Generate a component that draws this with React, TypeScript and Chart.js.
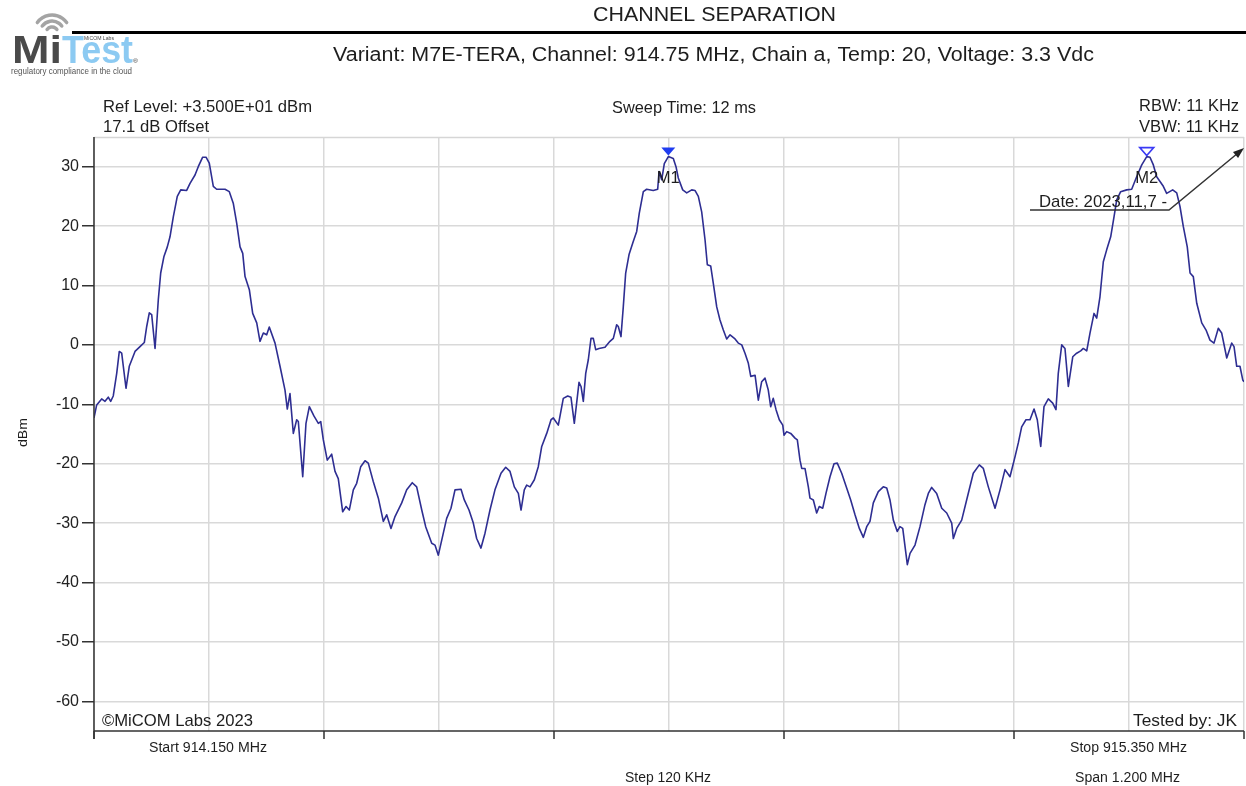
import React, { useEffect, useRef } from "react";
import { Chart, registerables } from "chart.js";
Chart.register(...registerables);

// ---------- data ----------
const freqMHz = [
  914.1500,914.1528,914.1580,914.1615,914.1649,914.1674,914.1701,914.1737,914.1764,914.1789,
  914.1834,914.1868,914.1928,914.1980,914.2025,914.2050,914.2077,914.2102,914.2137,914.2171,
  914.2196,914.2230,914.2265,914.2293,914.2328,914.2369,914.2405,914.2467,914.2502,914.2554,
  914.2588,914.2634,914.2669,914.2703,914.2745,914.2780,914.2867,914.2912,914.2954,914.2989,
  914.3024,914.3052,914.3076,914.3121,914.3156,914.3198,914.3232,914.3267,914.3302,914.3329,
  914.3389,914.3441,914.3493,914.3517,914.3545,914.3580,914.3615,914.3632,914.3678,914.3712,
  914.3747,914.3796,914.3841,914.3866,914.3893,914.3934,914.3980,914.4015,914.4049,914.4095,
  914.4130,914.4164,914.4206,914.4241,914.4283,914.4328,914.4362,914.4414,914.4467,914.4519,
  914.4554,914.4599,914.4641,914.4711,914.4763,914.4821,914.4867,914.4920,914.4961,914.5024,
  914.5058,914.5093,914.5145,914.5180,914.5225,914.5267,914.5330,914.5364,914.5413,914.5458,
  914.5493,914.5538,914.5580,914.5632,914.5684,914.5747,914.5796,914.5841,914.5886,914.5928,
  914.5956,914.5990,914.6015,914.6050,914.6095,914.6136,914.6172,914.6224,914.6269,914.6293,
  914.6345,914.6397,914.6443,914.6477,914.6512,914.6561,914.6582,914.6606,914.6631,914.6658,
  914.6686,914.6710,914.6735,914.6770,914.6832,914.6884,914.6919,914.6954,914.6971,914.6999,
  914.7023,914.7048,914.7083,914.7127,914.7163,914.7190,914.7232,914.7267,914.7336,914.7382,
  914.7396,914.7424,914.7451,914.7493,914.7545,914.7573,914.7597,914.7643,914.7685,914.7737,
  914.7771,914.7806,914.7841,914.7876,914.7900,914.7935,914.7962,914.7998,914.8032,914.8067,
  914.8102,914.8137,914.8189,914.8223,914.8259,914.8293,914.8328,914.8353,914.8398,914.8432,
  914.8467,914.8502,914.8536,914.8561,914.8588,914.8617,914.8651,914.8687,914.8700,914.8728,
  914.8770,914.8815,914.8839,914.8867,914.8885,914.8919,914.8954,914.8971,914.9006,914.9041,
  914.9068,914.9104,914.9138,914.9180,914.9222,914.9256,914.9302,914.9354,914.9396,914.9441,
  914.9486,914.9528,914.9563,914.9597,914.9632,914.9684,914.9736,914.9772,914.9806,914.9841,
  914.9882,914.9910,914.9939,914.9987,915.0015,915.0067,915.0119,915.0171,915.0206,915.0241,
  915.0293,915.0346,915.0398,915.0450,915.0467,915.0502,915.0554,915.0606,915.0675,915.0738,
  915.0780,915.0832,915.0902,915.0954,915.1006,915.1058,915.1111,915.1145,915.1180,915.1225,
  915.1267,915.1309,915.1343,915.1379,915.1413,915.1458,915.1504,915.1538,915.1562,915.1598,
  915.1632,915.1667,915.1713,915.1754,915.1796,915.1823,915.1859,915.1893,915.1935,915.1963,
  915.1997,915.2032,915.2067,915.2109,915.2144,915.2172,915.2213,915.2276,915.2328,915.2380,
  915.2433,915.2485,915.2519,915.2554,915.2589,915.2658,915.2693,915.2756,915.2798,915.2832,
  915.2867,915.2908,915.2937,915.2971,915.3007,915.3059,915.3104,915.3145,915.3187,915.3232,
  915.3267,915.3320,915.3372,915.3396,915.3424,915.3458,915.3487,915.3500,
];

const levelDbm = [
  -12.3,-10.1,-9.1,-9.5,-8.8,-9.5,-8.6,-4.8,-1.1,-1.4,
  -7.3,-3.6,-1.1,-0.3,0.4,3.1,5.4,5.1,-0.6,7.6,
  12.1,14.9,16.5,18.2,21.6,25.0,26.1,26.0,27.2,28.6,
  30.0,31.6,31.6,30.6,26.7,26.2,26.2,25.8,23.8,20.5,
  16.5,15.4,11.5,9.3,5.3,3.7,0.6,2.0,1.7,3.0,
  0.3,-3.6,-7.6,-10.8,-8.2,-14.9,-12.6,-12.9,-22.2,-13.2,
  -10.4,-12.0,-13.2,-12.9,-16.0,-19.4,-18.4,-21.3,-22.5,-28.1,
  -27.2,-27.8,-24.4,-23.3,-20.5,-19.5,-19.9,-23.0,-25.8,-29.7,
  -28.6,-30.9,-28.9,-26.6,-24.4,-23.2,-23.9,-27.8,-30.6,-33.4,
  -33.7,-35.4,-31.7,-29.2,-27.5,-24.4,-24.3,-26.1,-27.8,-30.0,
  -32.6,-34.2,-31.7,-27.8,-24.4,-21.6,-20.6,-21.3,-23.9,-25.0,
  -27.8,-24.4,-23.6,-23.9,-22.7,-20.5,-17.1,-14.9,-12.6,-12.3,
  -13.5,-9.0,-8.6,-8.8,-13.2,-6.3,-7.0,-9.5,-4.8,-2.5,
  1.1,1.1,-0.8,-0.6,-0.4,0.6,1.1,3.4,3.1,1.4,
  6.4,12.1,15.2,17.4,19.1,22.2,25.8,26.2,26.0,26.2,
  29.2,27.8,30.5,31.7,31.4,30.0,28.1,26.1,25.6,26.1,
  26.0,25.0,22.4,17.7,13.5,13.3,10.4,6.4,4.2,2.5,
  1.0,1.7,1.0,0.3,0.0,-1.4,-3.1,-5.3,-5.1,-9.3,
  -6.2,-5.6,-7.6,-10.4,-9.0,-10.9,-12.6,-13.5,-15.2,-14.6,
  -14.9,-15.7,-16.0,-19.4,-20.8,-20.8,-23.9,-25.8,-26.1,-28.3,
  -27.2,-27.5,-25.0,-22.2,-20.0,-19.9,-21.6,-24.1,-26.1,-28.6,
  -30.9,-32.4,-30.6,-29.7,-26.6,-24.7,-23.9,-24.1,-26.1,-29.5,
  -31.4,-30.6,-30.9,-37.0,-35.1,-33.7,-30.6,-26.9,-25.0,-24.0,
  -25.0,-27.5,-28.3,-30.0,-32.6,-30.9,-29.5,-26.1,-21.6,-20.2,
  -20.8,-23.9,-27.5,-24.4,-21.0,-22.2,-18.8,-16.5,-13.8,-12.6,
  -12.6,-10.8,-12.6,-17.1,-10.4,-9.1,-9.8,-10.9,-4.8,0.0,
  -0.6,-7.0,-2.0,-1.4,-1.0,-0.6,-1.0,2.0,5.3,4.5,
  8.1,14.0,16.0,18.2,21.6,24.4,25.8,26.1,26.2,28.3,
  30.3,31.7,31.6,30.3,28.3,26.7,25.5,26.1,25.6,23.3,
  19.9,16.5,12.1,11.5,7.0,3.7,2.5,0.8,0.3,2.8,
  2.0,-2.2,0.3,-0.3,-3.6,-3.6,-5.9,-6.2,
];

const freqGrid = [914.15, 914.27, 914.39, 914.51, 914.63, 914.75, 914.87, 914.99, 915.11, 915.23, 915.35];
const axisTickFreqs = [914.15, 914.39, 914.63, 914.87, 915.11, 915.35];
const levelTicks = [-60, -50, -40, -30, -20, -10, 0, 10, 20, 30];
const markerNames = ["M1", "M2"];
const markerFreqs = [914.7493, 915.2485];
const markerLevels = [31.7, 31.7];
const F_START = 914.15;
const F_STOP = 915.35;
const REF_LEVEL = 35;
const BOTTOM_LEVEL = -65;

const TITLE = "CHANNEL SEPARATION";
const SUBTITLE = "Variant: M7E-TERA, Channel: 914.75 MHz, Chain a, Temp: 20, Voltage: 3.3 Vdc";

const FONT = '"Liberation Sans", Arial, Helvetica, sans-serif';

function fitText(
  ctx: CanvasRenderingContext2D,
  text: string,
  left: number,
  baseline: number,
  width: number,
  size: number,
  color: any,
  weight = "normal"
) {
  ctx.save();
  ctx.font = `${weight} ${size}px ${FONT}`;
  ctx.fillStyle = color;
  ctx.textAlign = "left";
  ctx.textBaseline = "alphabetic";
  const w = ctx.measureText(text).width || 1;
  ctx.translate(left, baseline);
  ctx.scale(width / w, 1);
  ctx.fillText(text, 0, 0);
  ctx.restore();
}

const decorPlugin = {
  id: "decor",
  afterDraw(chart: any) {
    const ctx: CanvasRenderingContext2D = chart.ctx;
    const xs = chart.scales.x;
    const ys = chart.scales.y;
    const area = chart.chartArea;
    const dark = "#1e1e1e";

    // top border (ref level line)
    ctx.save();
    ctx.strokeStyle = "#d6d6d6";
    ctx.lineWidth = 1.5;
    ctx.beginPath();
    ctx.moveTo(area.left, area.top + 0.5);
    ctx.lineTo(area.right, area.top + 0.5);
    ctx.stroke();

    // axes
    ctx.strokeStyle = "#333";
    ctx.lineWidth = 1.5;
    ctx.beginPath();
    ctx.moveTo(area.left, area.top);
    ctx.lineTo(area.left, area.bottom + 8);
    ctx.moveTo(area.left, area.bottom);
    ctx.lineTo(area.right, area.bottom);
    ctx.stroke();
    ctx.beginPath();
    axisTickFreqs.forEach((f) => {
      const px = Math.round(xs.getPixelForValue(f));
      ctx.moveTo(px, area.bottom);
      ctx.lineTo(px, area.bottom + 8);
    });
    ctx.stroke();
    ctx.restore();

    // logo
    ctx.save();
    ctx.strokeStyle = "#a4a4a4";
    ctx.lineWidth = 3.5;
    ctx.lineCap = "round";
    [6, 12, 18].forEach((r) => {
      ctx.beginPath();
      ctx.arc(52, 33, r, -Math.PI / 2 - 0.95, -Math.PI / 2 + 0.95);
      ctx.stroke();
    });
    ctx.restore();
    const gm = ctx.createLinearGradient(0, 36, 0, 64);
    gm.addColorStop(0, "#4a4a4a");
    gm.addColorStop(1, "#161616");
    fitText(ctx, "Mi", 12, 63, 50, 39, gm, "bold");
    const gt = ctx.createLinearGradient(0, 34, 0, 64);
    gt.addColorStop(0, "#8ccaf2");
    gt.addColorStop(1, "#3a8cd2");
    fitText(ctx, "Test", 62, 63, 71, 39, gt, "bold");
    fitText(ctx, "MiCOM Labs", 84, 40, 30, 6, "#444");
    fitText(ctx, "®", 133, 63, 5, 6, "#333");
    fitText(ctx, "regulatory compliance in the cloud", 11, 74, 121, 8.5, "#555");

    // header
    fitText(ctx, TITLE, 593, 21, 243, 19.5, dark);
    ctx.save();
    ctx.fillStyle = "#000";
    ctx.fillRect(72, 31, 1174, 3);
    ctx.restore();
    fitText(ctx, SUBTITLE, 333, 61, 761, 19.5, dark);

    // plot annotations
    fitText(ctx, "Ref Level: +3.500E+01 dBm", 103, 111.5, 209, 17, dark);
    fitText(ctx, "17.1 dB Offset", 103, 131.5, 106, 17, dark);
    fitText(ctx, "Sweep Time: 12 ms", 612, 113, 144, 17, dark);
    fitText(ctx, "RBW: 11 KHz", 1139, 110.5, 100, 17, dark);
    fitText(ctx, "VBW: 11 KHz", 1139, 131.5, 100, 17, dark);
    fitText(ctx, "©MiCOM Labs 2023", 102, 726, 151, 17, dark);
    fitText(ctx, "Tested by: JK", 1133, 726, 104, 17, dark);

    // bottom labels
    fitText(ctx, "Start 914.150 MHz", 149, 752, 118, 15.5, dark);
    fitText(ctx, "Stop 915.350 MHz", 1070, 752, 117, 15.5, dark);
    fitText(ctx, "Step 120 KHz", 625, 782, 86, 15.5, dark);
    fitText(ctx, "Span 1.200 MHz", 1075, 782, 105, 15.5, dark);

    // y unit
    ctx.save();
    ctx.translate(27, 447);
    ctx.rotate(-Math.PI / 2);
    fitText(ctx, "dBm", 0, 0, 29, 12.5, dark);
    ctx.restore();

    // markers
    markerNames.forEach((name, i) => {
      const px = xs.getPixelForValue(markerFreqs[i]);
      const py = ys.getPixelForValue(markerLevels[i]);
      const tipY = py - 1;
      ctx.save();
      ctx.beginPath();
      ctx.moveTo(px - 7, tipY - 8);
      ctx.lineTo(px + 7, tipY - 8);
      ctx.lineTo(px, tipY);
      ctx.closePath();
      if (i === 0) {
        ctx.fillStyle = "#1f3cf0";
        ctx.fill();
      } else {
        ctx.strokeStyle = "#3a3af5";
        ctx.lineWidth = 1.6;
        ctx.stroke();
      }
      ctx.restore();
      fitText(ctx, name, px - 11.5, py + 26, 23, 17, dark);
    });

    // date callout
    fitText(ctx, "Date: 2023,11,7 -", 1039, 207, 128, 17, dark);
    ctx.save();
    ctx.strokeStyle = "#333";
    ctx.fillStyle = "#222";
    ctx.lineWidth = 1.5;
    ctx.beginPath();
    ctx.moveTo(1030, 210);
    ctx.lineTo(1169, 210);
    ctx.lineTo(1238, 153);
    ctx.stroke();
    const ang = Math.atan2(148 - 210, 1244 - 1169);
    ctx.beginPath();
    ctx.moveTo(1244, 148);
    ctx.lineTo(1244 - 11 * Math.cos(ang) + 4 * Math.sin(ang), 148 - 11 * Math.sin(ang) - 4 * Math.cos(ang));
    ctx.lineTo(1244 - 11 * Math.cos(ang) - 4 * Math.sin(ang), 148 - 11 * Math.sin(ang) + 4 * Math.cos(ang));
    ctx.closePath();
    ctx.fill();
    ctx.restore();
  },
};

export default function App() {
  const canvasRef = useRef<HTMLCanvasElement | null>(null);

  useEffect(() => {
    if (!canvasRef.current) return;
    const n = Math.min(freqMHz.length, levelDbm.length);
    const points = [];
    for (let i = 0; i < n; i++) points.push({ x: freqMHz[i], y: levelDbm[i] });

    const chart = new Chart(canvasRef.current, {
      type: "scatter",
      data: {
        datasets: [
          {
            data: points,
            showLine: true,
            borderColor: "#2e2e92",
            borderWidth: 1.6,
            borderJoinStyle: "round",
            pointRadius: 0,
            tension: 0,
          },
        ],
      },
      options: {
        responsive: false,
        animation: false,
        devicePixelRatio: 1,
        layout: { padding: { left: 0, right: 2, top: 137, bottom: 0 } },
        plugins: { legend: { display: false }, tooltip: { enabled: false } },
        scales: {
          x: {
            type: "linear",
            min: F_START,
            max: F_STOP,
            afterBuildTicks: (s: any) => {
              s.ticks = freqGrid.map((v) => ({ value: v }));
            },
            afterFit: (s: any) => {
              s.height = 55;
            },
            ticks: { display: false },
            grid: { color: "#d9d9d9", lineWidth: 1.5, drawTicks: false },
            border: { display: false },
          },
          y: {
            type: "linear",
            min: BOTTOM_LEVEL,
            max: REF_LEVEL,
            afterBuildTicks: (s: any) => {
              s.ticks = levelTicks.map((v) => ({ value: v }));
            },
            afterFit: (s: any) => {
              s.width = 94;
            },
            ticks: { color: "#222", padding: 3, font: { family: FONT, size: 16 } },
            grid: { color: "#d9d9d9", lineWidth: 1.5, tickColor: "#333", tickLength: 12, tickWidth: 1.5 },
            border: { display: false },
          },
        },
      },
      plugins: [decorPlugin],
    } as any);

    return () => chart.destroy();
  }, []);

  return (
    <div style={{ position: "absolute", left: 0, top: 0, width: 1246, height: 786, background: "#fff" }}>
      <canvas ref={canvasRef} width={1246} height={786} style={{ display: "block" }} />
    </div>
  );
}
